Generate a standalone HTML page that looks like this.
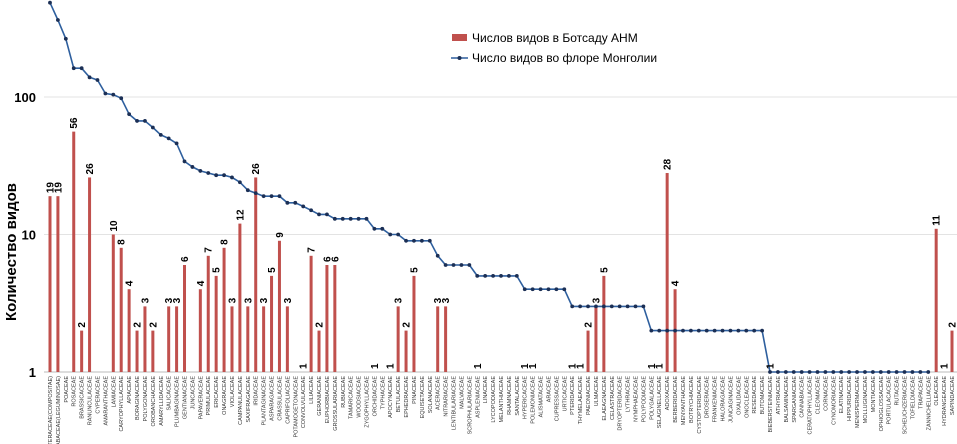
<!DOCTYPE html>
<html><head><meta charset="utf-8"><style>
body{margin:0;background:#fff;}
svg{display:block;font-family:"Liberation Sans",sans-serif;}
</style></head><body>
<svg id="chart" width="957" height="444">
<g id="grid"></g><g id="bars"></g><g id="line"></g><g id="labels"></g><g id="xlabels"></g>
<text transform="translate(16,252) rotate(-90)" text-anchor="middle" font-size="15" font-weight="bold">Количество видов</text>
<g>
<rect x="452" y="34" width="15" height="7" fill="#c0504d"/>
<text x="472" y="42" font-size="12">Числов видов в Ботсаду АНМ</text>
<line x1="451" y1="58" x2="468" y2="58" stroke="#2e5f9e" stroke-width="1.5"/>
<circle cx="459.5" cy="58" r="2" fill="#1b2f55"/>
<text x="472" y="62" font-size="12">Число видов во флоре Монголии</text>
</g>
</svg>
<script>
const categories=["Asteraceae(Compositae)","Fabaceae(Leguminosae)","Poaceae","Rosaceae","Brassicaceae","Ranunculaceae","Cyperaceae","Amaranthaceae","Lamiaceae","Caryophyllaceae","Apiaceae","Boraginaceae","Polygonaceae","Orobanchaceae","Amaryllidaceae","Salicaceae","Plumbaginaceae","Gentianaceae","Juncaceae","Papaveraceae","Primulaceae","Ericaceae","Onagraceae","Violaceae","Campanulaceae","Saxifragaceae","Iridaceae","Plantaginaceae","Asparagaceae","Crassulaceae","Caprifoliaceae","Potamogetonaceae","Convolvulaceae","Liliaceae","Geraniaceae","Euphorbiaceae","Grossulariaceae","Rubiaceae","Tamaricaceae","Woodsiaceae","Zygophyllaceae","Orchidaceae","Typhaceae","Apocynaceae","Betulaceae","Ephedraceae","Pinaceae","Equisetaceae","Solanaceae","Aceraceae","Nitrariaceae","Lentibulariaceae","Malvaceae","Scrophulariaceae","Aspleniaceae","Linaceae","Lycopodiaceae","Melanthiaceae","Rhamnaceae","Santalaceae","Hypericaceae","Polemoniaceae","Alismataceae","Araceae","Cupressaceae","Urticaceae","Pteridaceae","Thymelaeaceae","Paeoniaceae","Ulmaceae","Elaeagnaceae","Celastraceae","Dryopteridaceae","Lythraceae","Nymphaeaceae","Polypodiaceae","Polygalaceae","Selaginellaceae","Adoxaceae","Berberidaceae","Menyanthaceae","Botrychiaceae","Cystopteridaceae","Droseraceae","Frankeniaceae","Haloragaceae","Juncaginaceae","Oxalidaceae","Onocleaceae","Resedaceae","Butomaceae","Biebersteiniaceae","Athyriaceae","Balsaminaceae","Sparganiaceae","Cannabaceae","Ceratophyllaceae","Cleomaceae","Cornaceae","Cynomoriaceae","Elatinaceae","Hippuridaceae","Menispermaceae","Molluginaceae","Montiaceae","Ophioglossaceae","Portulacaceae","Rutaceae","Scheuchzeriaceae","Tofieldiaceae","Trapaceae","Zannichelliaceae","Oleaceae","Hydrangeaceae","Sapindaceae"];
const floraValues=[485,363,265,162,162,139,133,106,104,98,75,67,67,60,53,50,46,34,31,29,28,27,27,26,24,21,20,19,19,19,17,17,16,15,14,14,13,13,13,13,13,11,11,10,10,9,9,9,9,7,6,6,6,6,5,5,5,5,5,5,4,4,4,4,4,4,3,3,3,3,3,3,3,3,3,3,2,2,2,2,2,2,2,2,2,2,2,2,2,2,2,1,1,1,1,1,1,1,1,1,1,1,1,1,1,1,1,1,1,1,1,1,null,null,null];
const gardenValues=[19,19,null,56,2,26,null,null,10,8,4,2,3,2,null,3,3,6,null,4,7,5,8,3,12,3,26,3,5,9,3,null,1,7,2,6,6,null,null,null,null,1,null,1,3,2,5,null,null,3,3,null,null,null,1,null,null,null,null,null,1,1,null,null,null,null,1,1,2,3,5,null,null,null,null,null,1,1,28,4,null,null,null,null,null,null,null,null,null,null,null,1,null,null,null,null,null,null,null,null,null,null,null,null,null,null,null,null,null,null,null,null,11,1,2];
const yTicks=[1,10,100];
const NS="http://www.w3.org/2000/svg";
const x0=50,x1=952,yBase=372,decade=137.5;
const nCat=Math.max(categories.length,floraValues.length,gardenValues.length);
function catName(i){return categories[i]||('Family '+(i+1));}
function xPos(i){return x0+i*(x1-x0)/(nCat-1);}
function yPos(v){return yBase-decade*Math.log10(v);}
function mk(tag,attrs,parent){const e=document.createElementNS(NS,tag);for(const k in attrs)e.setAttribute(k,attrs[k]);parent.appendChild(e);return e;}
const grid=document.getElementById('grid');
yTicks.forEach(t=>{
 const l=mk('line',{x1:44,x2:957,y1:yPos(t),y2:yPos(t),stroke:t===1?'#bbb':'#e3e3e3','stroke-width':1},grid);
 
 
 const tx=mk('text',{x:36,y:yPos(t)+5,'text-anchor':'end','font-size':13,'font-weight':'bold'},grid);
 tx.textContent=t;
 
 
});
const bars=document.getElementById('bars'),labels=document.getElementById('labels');
gardenValues.forEach((v,i)=>{
 if(v==null)return;
 const x=xPos(i),y=yPos(v);
 if(v>1){const r=mk('rect',{x:x-1.5,y:y,width:3,height:yBase-y,fill:'#c0504d'},bars);
 
 }
 const t=mk('text',{transform:`translate(${x+3.5},${y-3}) rotate(-90)`,'font-size':10,'font-weight':'bold'},labels);
 t.textContent=v;
 
 
});
const lg=document.getElementById('line');
let d='';floraValues.forEach((v,i)=>{if(v==null)return;d+=(d?'L':'M')+xPos(i).toFixed(1)+','+yPos(v).toFixed(1);});
const p=mk('path',{d:d,fill:'none',stroke:'#2e5f9e','stroke-width':1.6},lg);


floraValues.forEach((v,i)=>{if(v==null)return;
 const c=mk('circle',{cx:xPos(i),cy:yPos(v),r:1.9,fill:'#1b2f55'},lg);
 
 
});
const xl=document.getElementById('xlabels');
for(let i=0;i<nCat;i++){
 const t=mk('text',{transform:`translate(${xPos(i)+2},${yBase+4}) rotate(-90)`,'text-anchor':'end','font-size':5.5,fill:'#333'},xl);
 t.textContent=catName(i).toUpperCase();
 
 
}
</script>
</body></html>
